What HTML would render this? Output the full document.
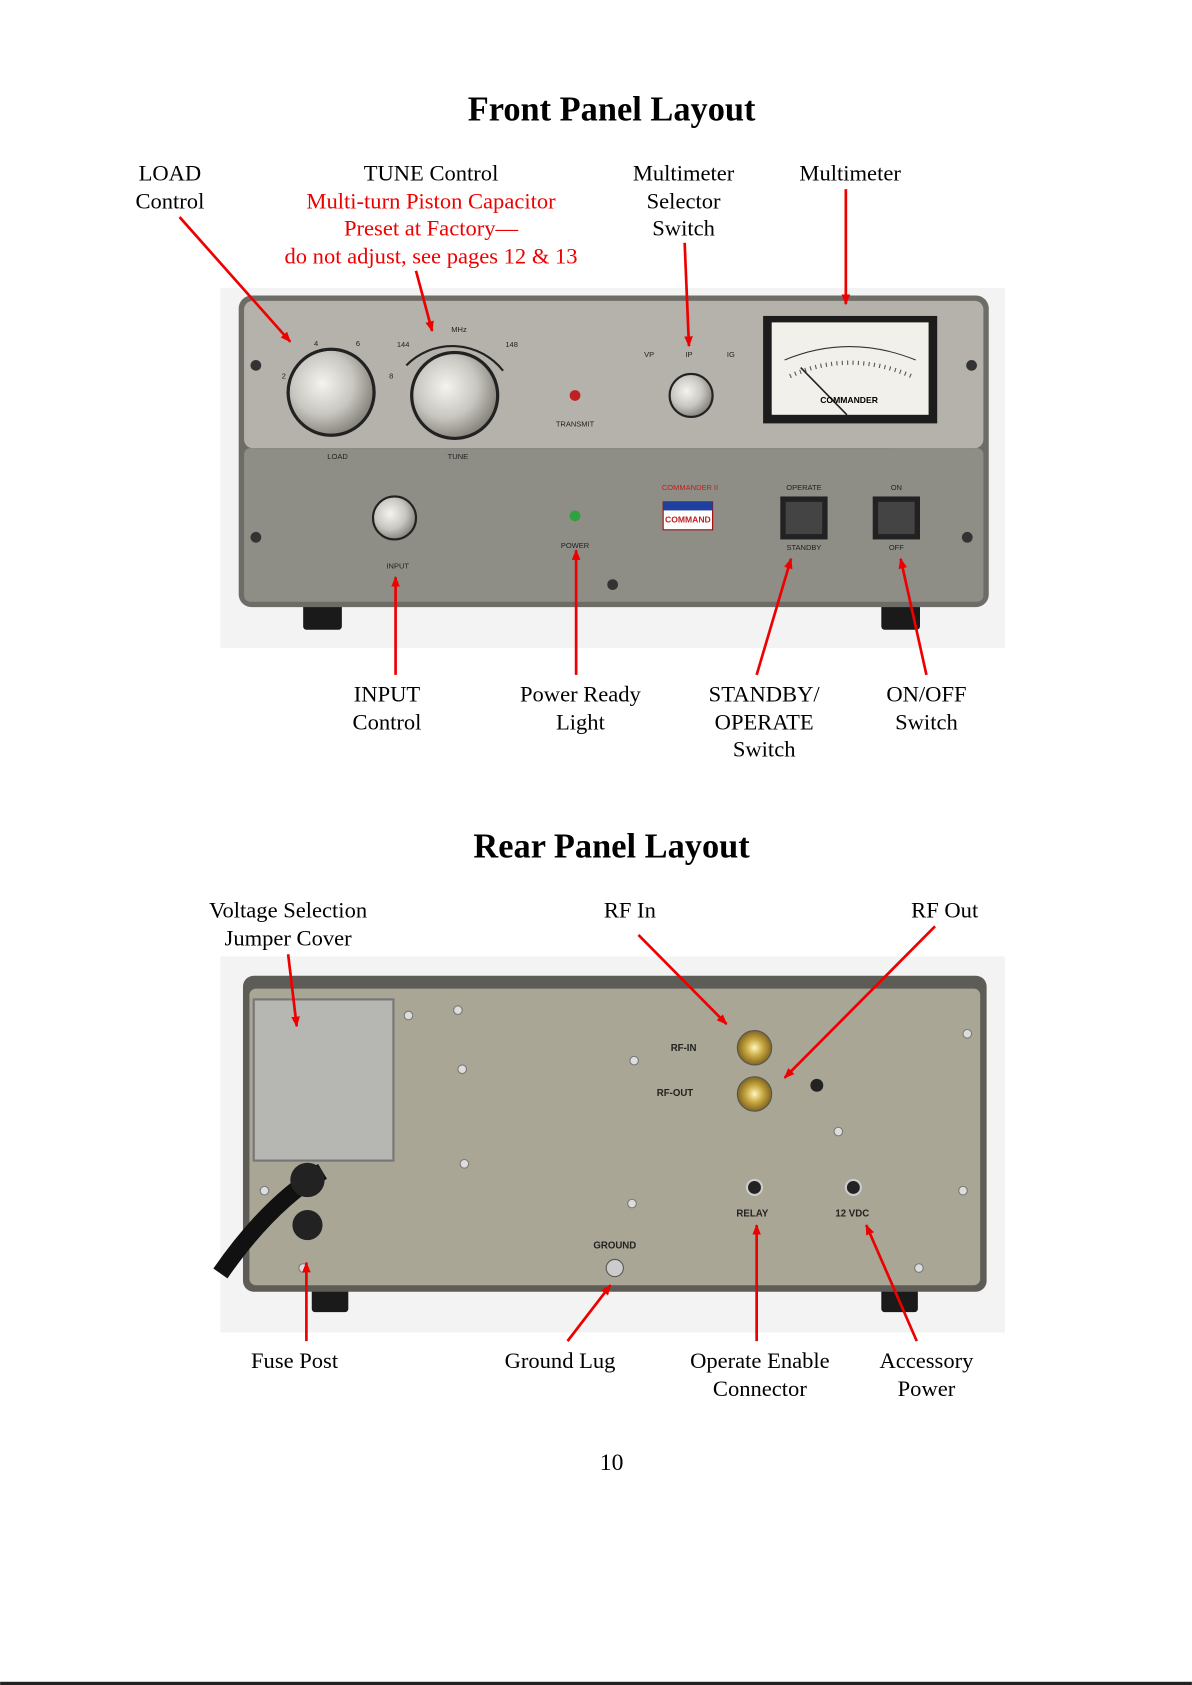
<!DOCTYPE html>
<html><head><meta charset="utf-8"><style>
html,body{margin:0;padding:0;background:#fff;}
svg{display:block;}
text{font-family:"Liberation Serif",serif;}
text.s{font-family:"Liberation Sans",sans-serif;}
</style></head><body>
<svg width="1192" height="1685" viewBox="0 0 1109 1568" xmlns="http://www.w3.org/2000/svg">
<defs>
<marker id="ah" markerWidth="10" markerHeight="10" refX="9" refY="5" orient="auto" markerUnits="userSpaceOnUse">
<path d="M0,1 L10,5 L0,9 Z" fill="#e00"/></marker>
<radialGradient id="knob" cx="40%" cy="40%" r="60%"><stop offset="0" stop-color="#f4f4f0"/><stop offset="0.6" stop-color="#c8c6c0"/><stop offset="1" stop-color="#8a8880"/></radialGradient>
<radialGradient id="gold" cx="50%" cy="50%" r="50%"><stop offset="0" stop-color="#fff6c0"/><stop offset="0.5" stop-color="#c8a840"/><stop offset="1" stop-color="#806420"/></radialGradient>
</defs>
<rect width="1109" height="1568" fill="#fff"/>
<rect x="0" y="1565" width="1109" height="3" fill="#222"/>

<text x="569" y="112" font-size="32" font-weight="bold" text-anchor="middle">Front Panel Layout</text>
<g font-size="21" text-anchor="middle">
<text x="158" y="168">LOAD</text><text x="158" y="194">Control</text>
<text x="401" y="168">TUNE Control</text>
<text x="401" y="194" fill="#e00">Multi-turn Piston Capacitor</text>
<text x="401" y="219" fill="#e00">Preset at Factory—</text>
<text x="401" y="245" fill="#e00">do not adjust, see pages 12 &amp; 13</text>
<text x="636" y="168">Multimeter</text><text x="636" y="194">Selector</text><text x="636" y="219">Switch</text>
<text x="791" y="168">Multimeter</text>
<text x="360" y="653">INPUT</text><text x="360" y="679">Control</text>
<text x="540" y="653">Power Ready</text><text x="540" y="679">Light</text>
<text x="711" y="653">STANDBY/</text><text x="711" y="679">OPERATE</text><text x="711" y="704">Switch</text>
<text x="862" y="653">ON/OFF</text><text x="862" y="679">Switch</text>
</g>

<!-- front panel -->
<rect x="205" y="268" width="730" height="335" fill="#f3f3f3"/>
<rect x="282" y="560" width="36" height="26" rx="3" fill="#1a1a1a"/>
<rect x="820" y="560" width="36" height="26" rx="3" fill="#1a1a1a"/>
<rect x="222" y="275" width="698" height="290" rx="12" fill="#6e6c66"/>
<rect x="227" y="280" width="688" height="137" rx="8" fill="#b4b2aa"/>
<rect x="227" y="417" width="688" height="143" rx="6" fill="#8e8d86"/>
<rect x="710" y="294" width="162" height="100" fill="#1c1c1c"/>
<rect x="718" y="300" width="146" height="86" fill="#f2f0ea"/>
<path d="M730,335 Q790,310 852,335" stroke="#333" fill="none"/>
<path d="M735,350 Q790,325 848,350" stroke="#555" fill="none" stroke-dasharray="1 4" stroke-width="4"/>
<line x1="745" y1="342" x2="788" y2="386" stroke="#222" stroke-width="1.5"/>
<text class="s" x="790" y="375" font-size="8" text-anchor="middle" font-weight="bold">COMMANDER</text>
<circle cx="308" cy="365" r="40" fill="url(#knob)" stroke="#222" stroke-width="3"/>
<circle cx="423" cy="368" r="40" fill="url(#knob)" stroke="#222" stroke-width="3"/>
<path d="M378,340 A60,60 0 0 1 468,345" stroke="#222" stroke-width="2" fill="none"/>
<circle cx="643" cy="368" r="20" fill="url(#knob)" stroke="#222" stroke-width="2"/>
<circle cx="367" cy="482" r="20" fill="url(#knob)" stroke="#222" stroke-width="2"/>
<circle cx="535" cy="368" r="5" fill="#c02020"/>
<circle cx="535" cy="480" r="5" fill="#30a040"/>
<rect x="617" y="467" width="46" height="26" fill="#fff" stroke="#a00"/>
<rect x="617" y="467" width="46" height="8" fill="#2040a0"/>
<text class="s" x="640" y="486" font-size="8" font-weight="bold" fill="#c02020" text-anchor="middle">COMMAND</text>
<rect x="726" y="462" width="44" height="40" fill="#222"/><rect x="731" y="467" width="34" height="30" fill="#444"/>
<rect x="812" y="462" width="44" height="40" fill="#222"/><rect x="817" y="467" width="34" height="30" fill="#444"/>
<g fill="#333"><circle cx="238" cy="340" r="5"/><circle cx="904" cy="340" r="5"/><circle cx="238" cy="500" r="5"/><circle cx="900" cy="500" r="5"/><circle cx="570" cy="544" r="5"/></g>
<g font-size="7" fill="#222" text-anchor="middle">
<text class="s" x="535" y="397">TRANSMIT</text><text class="s" x="314" y="427">LOAD</text><text class="s" x="426" y="427">TUNE</text>
<text class="s" x="370" y="529">INPUT</text><text class="s" x="535" y="510">POWER</text><text class="s" x="748" y="456">OPERATE</text><text class="s" x="748" y="512">STANDBY</text>
<text class="s" x="834" y="456">ON</text><text class="s" x="834" y="512">OFF</text><text class="s" x="641" y="332">IP</text><text class="s" x="604" y="332">VP</text><text class="s" x="680" y="332">IG</text>
<text class="s" x="427" y="309">MHz</text><text class="s" x="375" y="323">144</text><text class="s" x="476" y="323">148</text>
<text class="s" x="294" y="322">4</text><text class="s" x="333" y="322">6</text><text class="s" x="264" y="352">2</text><text class="s" x="364" y="352">8</text>
</g>
<text class="s" x="642" y="456" font-size="7" fill="#c02020" text-anchor="middle">COMMANDER II</text>

<text x="569" y="798" font-size="32" font-weight="bold" text-anchor="middle">Rear Panel Layout</text>
<g font-size="21" text-anchor="middle">
<text x="268" y="854">Voltage Selection</text><text x="268" y="880">Jumper Cover</text>
<text x="586" y="854">RF In</text><text x="879" y="854">RF Out</text>
<text x="274" y="1273">Fuse Post</text><text x="521" y="1273">Ground Lug</text>
<text x="707" y="1273">Operate Enable</text><text x="707" y="1299">Connector</text>
<text x="862" y="1273">Accessory</text><text x="862" y="1299">Power</text>
</g>

<!-- rear panel -->
<rect x="205" y="890" width="730" height="350" fill="#f3f3f3"/>
<rect x="290" y="1195" width="34" height="26" rx="3" fill="#1a1a1a"/>
<rect x="820" y="1195" width="34" height="26" rx="3" fill="#1a1a1a"/>
<rect x="226" y="908" width="692" height="294" rx="10" fill="#5e5c56"/>
<rect x="232" y="920" width="680" height="276" rx="6" fill="#aaa696"/>
<rect x="236" y="930" width="130" height="150" fill="#b6b6b2" stroke="#777" stroke-width="2"/>
<path d="M300,1090 Q250,1120 205,1185" stroke="#111" stroke-width="16" fill="none"/>
<circle cx="286" cy="1098" r="16" fill="#222"/>
<circle cx="286" cy="1140" r="14" fill="#222"/>
<circle cx="702" cy="975" r="16" fill="url(#gold)" stroke="#555"/>
<circle cx="702" cy="1018" r="16" fill="url(#gold)" stroke="#555"/>
<circle cx="760" cy="1010" r="6" fill="#222"/>
<circle cx="702" cy="1105" r="7" fill="#222" stroke="#ccc" stroke-width="2"/>
<circle cx="794" cy="1105" r="7" fill="#222" stroke="#ccc" stroke-width="2"/>
<circle cx="572" cy="1180" r="8" fill="#ccc" stroke="#555"/>
<g fill="#ddd" stroke="#777"><circle cx="380" cy="945" r="4"/><circle cx="426" cy="940" r="4"/><circle cx="430" cy="995" r="4"/><circle cx="590" cy="987" r="4"/><circle cx="432" cy="1083" r="4"/><circle cx="588" cy="1120" r="4"/><circle cx="780" cy="1053" r="4"/><circle cx="900" cy="962" r="4"/><circle cx="896" cy="1108" r="4"/><circle cx="246" cy="1108" r="4"/><circle cx="282" cy="1180" r="4"/><circle cx="855" cy="1180" r="4"/></g>
<g font-size="9" font-weight="bold" fill="#222" text-anchor="middle">
<text class="s" x="636" y="978">RF-IN</text><text class="s" x="628" y="1020">RF-OUT</text><text class="s" x="700" y="1132">RELAY</text><text class="s" x="793" y="1132">12 VDC</text><text class="s" x="572" y="1162">GROUND</text>
</g>

<!-- arrows -->
<g stroke="#e00" stroke-width="2.5" marker-end="url(#ah)">
<line x1="167" y1="202" x2="270" y2="318"/>
<line x1="387" y1="252" x2="402" y2="308"/>
<line x1="637" y1="226" x2="641" y2="322"/>
<line x1="787" y1="176" x2="787" y2="283"/>
<line x1="368" y1="628" x2="368" y2="537"/>
<line x1="536" y1="628" x2="536" y2="512"/>
<line x1="704" y1="628" x2="736" y2="520"/>
<line x1="862" y1="628" x2="838" y2="520"/>
<line x1="268" y1="888" x2="276" y2="955"/>
<line x1="594" y1="870" x2="676" y2="953"/>
<line x1="870" y1="862" x2="730" y2="1003"/>
<line x1="285" y1="1248" x2="285" y2="1175"/>
<line x1="528" y1="1248" x2="568" y2="1196"/>
<line x1="704" y1="1248" x2="704" y2="1140"/>
<line x1="853" y1="1248" x2="806" y2="1140"/>
</g>

<text x="569" y="1368" font-size="22" text-anchor="middle">10</text>
</svg>
</body></html>
